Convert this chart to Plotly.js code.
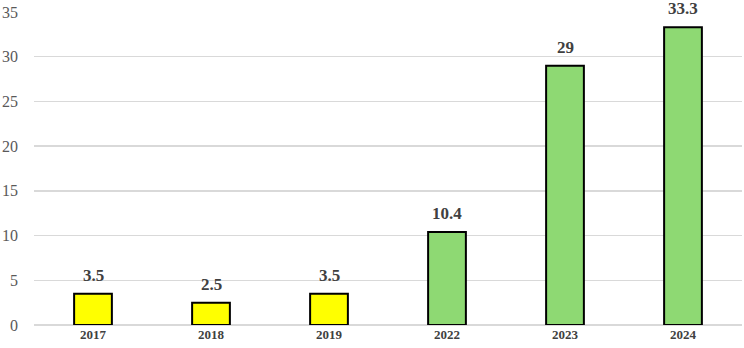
<!DOCTYPE html>
<html>
<head>
<meta charset="utf-8">
<script src="https://cdn.plot.ly/plotly-3.0.1.min.js"></script>
<style>html,body{margin:0;padding:0;background:#fff;}#chart{width:744px;height:348px;}</style>
</head>
<body>
<div id="chart"></div>
<script>
const years = ["2017", "2018", "2019", "2022", "2023", "2024"];
const values = [3.5, 2.5, 3.5, 10.4, 29, 33.3];
const barColors = ["#FFFF00", "#FFFF00", "#FFFF00", "#8ED973", "#8ED973", "#8ED973"];
const labels = ["3.5", "2.5", "3.5", "10.4", "29", "33.3"];

const annotations = years.map((yr, i) => ({
  x: i, y: values[i], xref: "x", yref: "y",
  text: labels[i], showarrow: false,
  yanchor: "bottom", yshift: 8, borderpad: 0,
  font: {family: "Liberation Serif", size: 17, color: "#404040", weight: "bold"}
}));

Plotly.newPlot("chart", [{
  type: "bar",
  x: years,
  y: values,
  marker: {color: barColors, line: {color: "#000000", width: 2}},
  width: 0.32,
  hoverinfo: "none"
}], {
  width: 744, height: 348,
  margin: {l: 34, r: 2, t: 12, b: 23, pad: 0},
  paper_bgcolor: "#ffffff", plot_bgcolor: "#ffffff",
  showlegend: false,
  annotations: annotations,
  xaxis: {
    type: "category", range: [-0.5, 5.5], autorange: false,
    tickfont: {family: "Liberation Serif", size: 13, color: "#404040", weight: "bold"},
    showgrid: false, zeroline: false, showline: false, ticks: ""
  },
  yaxis: {
    range: [0, 35], tickvals: [0, 5, 10, 15, 20, 25, 30, 35],
    tickfont: {family: "Liberation Serif", size: 16, color: "#595959"},
    gridcolor: "#D9D9D9", gridwidth: 1.5,
    zeroline: true, zerolinecolor: "#D9D9D9", zerolinewidth: 1.5,
    showline: false, ticks: "", ticklabelstandoff: 15
  }
}, {displayModeBar: false, staticPlot: true});
</script>
</body>
</html>
